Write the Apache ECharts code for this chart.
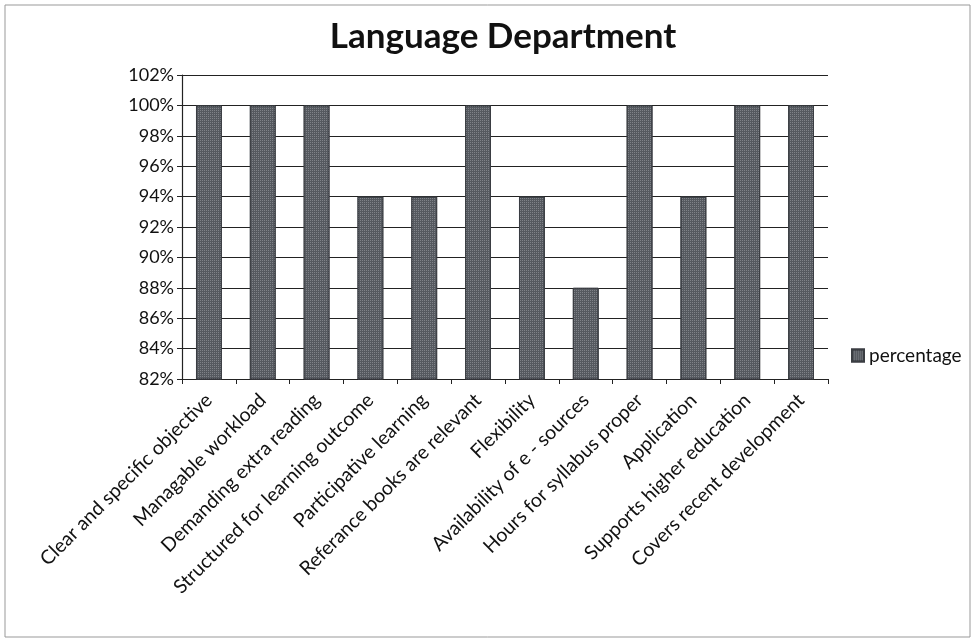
<!DOCTYPE html>
<html><head><meta charset="utf-8">
<script src="https://cdn.jsdelivr.net/npm/echarts@6/dist/echarts.min.js"></script>
<style>html,body{margin:0;padding:0;background:#fff}#c{width:975px;height:640px}</style>
</head><body><div id="c"></div>
<script>
const categories = ["Clear and specific objective","Managable workload","Demanding extra reading","Structured for learning outcome","Participative learning","Referance books are relevant","Flexibility","Availability of e - sources","Hours for syllabus proper","Application","Supports higher education","Covers recent development"];
const percentage = [100,100,100,94,94,100,94,88,100,94,100,100];
const yTicks = {min:82, max:102, step:2};
const titleText = "Language Department";
const seriesName = "percentage";

const chart = echarts.init(document.getElementById('c'), null, {renderer:'canvas'});
const font = 'Lato, "Open Sans", sans-serif';
chart.setOption({
  backgroundColor:'#fff',
  animation:false,
  title:{text:titleText, left:498, top:14, textAlign:'center',
    textStyle:{fontFamily:font, fontSize:35, fontWeight:'bold', color:'#111'}},
  legend:{data:[seriesName], left:846, top:341, itemWidth:12, itemHeight:12, itemGap:4, icon:'rect',
    textStyle:{fontFamily:font, fontSize:19, color:'#111'}},
  grid:{left:182, right:147, top:75, bottom:261, containLabel:false},
  xAxis:{type:'category', data:categories,
    axisLine:{lineStyle:{color:'#222', width:1.2}},
    axisTick:{show:true, alignWithLabel:false, length:5, lineStyle:{color:'#222'}},
    axisLabel:{rotate:45, interval:0, fontFamily:font, fontSize:19.5, color:'#111', margin:18}},
  yAxis:{type:'value', min:yTicks.min, max:yTicks.max, interval:yTicks.step,
    axisLine:{show:true, lineStyle:{color:'#222', width:1.2}},
    axisTick:{show:true, length:5, lineStyle:{color:'#222'}},
    splitLine:{lineStyle:{color:'#222', width:1.2}},
    axisLabel:{formatter:v=>v+'%', fontFamily:font, fontSize:18, color:'#111', margin:8}},
  series:[{name:seriesName, type:'bar', data:percentage, barWidth:'48%',
    itemStyle:{color:'#55595f', borderColor:'#3a3d42', borderWidth:1,
      decal:{symbol:'rect', symbolSize:1, dashArrayX:[1,1], dashArrayY:[1,1], color:'rgba(170,172,178,0.5)', rotation:0}}}],
  graphic:[{type:'rect', shape:{x:5, y:5, width:965, height:632}, style:{fill:'none', stroke:'#999', lineWidth:1}, silent:true}]
});
</script></body></html>
